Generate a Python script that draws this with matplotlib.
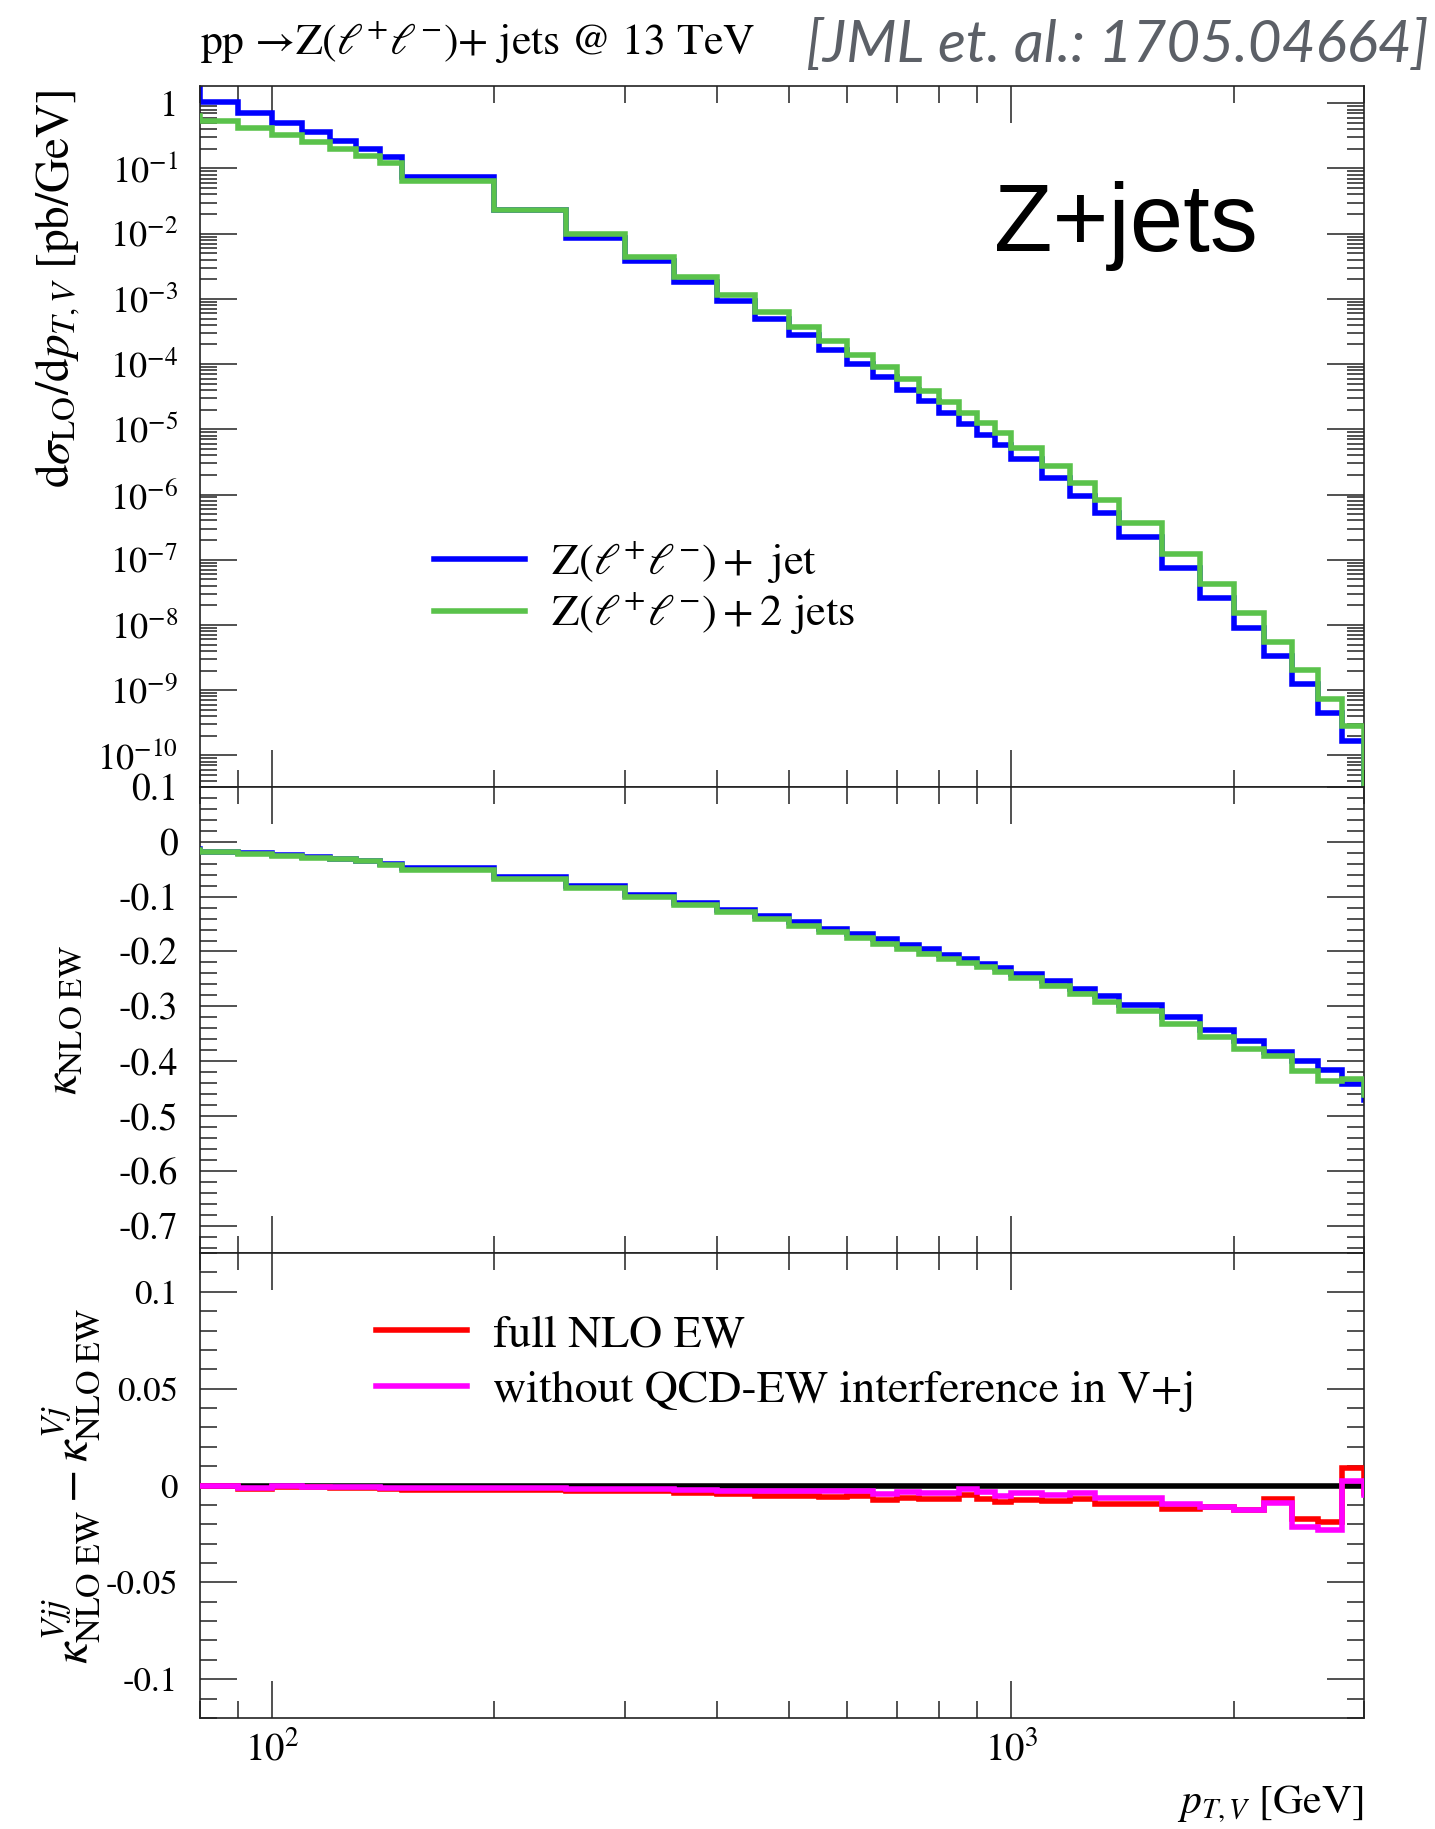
import numpy as np
import matplotlib
matplotlib.use("Agg")
import matplotlib.pyplot as plt
from matplotlib.ticker import LogLocator, MultipleLocator, FuncFormatter, NullFormatter
from matplotlib.lines import Line2D

# ---------------------------------------------------------------- data
# bin edges in p_T,V [GeV] (first and last bins lie just outside the shown range)
pt_edges = [70, 80, 90, 100, 110, 120, 130, 140, 150, 200, 250, 300, 350, 400,
            450, 500, 550, 600, 650, 700, 750, 800, 850, 900, 950, 1000, 1100,
            1200, 1300, 1400, 1600, 1800, 2000, 2200, 2400, 2600, 2800, 3000, 3200]

# LO differential cross sections [pb/GeV]
xs_vj = [2.1, 1.04, 0.70, 0.495, 0.36, 0.266, 0.197, 0.149, 0.0745, 0.0232,
         0.0086, 0.00381, 0.00179, 9.12e-4, 4.95e-4, 2.81e-4, 1.66e-4, 1.01e-4,
         6.38e-5, 4.07e-5, 2.67e-5, 1.77e-5, 1.21e-5, 8.3e-6, 5.78e-6, 3.48e-6,
         1.8e-6, 9.4e-7, 5.16e-7, 2.24e-7, 7.4e-8, 2.57e-8, 9.1e-9, 3.3e-9,
         1.23e-9, 4.43e-10, 1.67e-10, 1e-12]
xs_vjj = [0.64, 0.539, 0.415, 0.324, 0.25, 0.197, 0.153, 0.121, 0.0643, 0.0232,
          0.00972, 0.00442, 0.00218, 0.001156, 6.34e-4, 3.73e-4, 2.25e-4, 1.39e-4,
          8.87e-5, 5.81e-5, 3.89e-5, 2.61e-5, 1.77e-5, 1.23e-5, 8.7e-6, 5.25e-6,
          2.75e-6, 1.48e-6, 8.18e-7, 3.63e-7, 1.23e-7, 4.2e-8, 1.5e-8, 5.5e-9,
          2.02e-9, 7.43e-10, 2.83e-10, 1e-12]

# relative NLO EW corrections
kappa_vj = [-0.013, -0.018, -0.021, -0.0246, -0.0277, -0.031, -0.035, -0.0399,
            -0.0478, -0.0648, -0.0813, -0.0965, -0.111, -0.1239, -0.1354, -0.147,
            -0.1585, -0.1683, -0.178, -0.1878, -0.1963, -0.206, -0.2145, -0.2225,
            -0.2298, -0.2407, -0.2541, -0.2687, -0.2809, -0.2979, -0.3198, -0.3424,
            -0.3637, -0.3825, -0.4002, -0.4166, -0.441, -0.47]
kappa_vjj = [-0.014, -0.0186, -0.0228, -0.0262, -0.0289, -0.032, -0.0356, -0.0417,
             -0.0505, -0.0676, -0.0846, -0.0998, -0.115, -0.1284, -0.1409, -0.1534,
             -0.1643, -0.1753, -0.1856, -0.1954, -0.2045, -0.213, -0.2203, -0.2288,
             -0.2383, -0.2486, -0.2632, -0.2769, -0.2912, -0.3083, -0.3326, -0.3551,
             -0.3777, -0.391, -0.4178, -0.4361, -0.4318, -0.461]

# kappa(Vjj) - kappa(Vj)
dkappa_full = [0.0, -0.0003, -0.0017, -0.0008, -0.001, -0.0013, -0.0014, -0.0018,
               -0.0022, -0.0023, -0.0027, -0.0029, -0.0039, -0.0045, -0.0055, -0.0055,
               -0.0057, -0.0055, -0.0075, -0.0063, -0.007, -0.007, -0.005, -0.0068,
               -0.0084, -0.0075, -0.0082, -0.0071, -0.0093, -0.0095, -0.012, -0.0111,
               -0.0124, -0.0068, -0.0175, -0.0186, 0.0092, -0.004]
dkappa_noint = [0.0, -0.0003, -0.0014, -0.0005, -0.0007, -0.001, -0.0009, -0.0014,
                -0.0014, -0.0014, -0.0016, -0.0017, -0.0022, -0.0026, -0.003, -0.003,
                -0.0029, -0.0029, -0.0045, -0.0033, -0.0038, -0.0038, -0.0019, -0.0035,
                -0.0052, -0.004, -0.0048, -0.0041, -0.0065, -0.0065, -0.0094, -0.011,
                -0.0125, -0.009, -0.0215, -0.0229, 0.0022, -0.005]

# ---------------------------------------------------------------- style
plt.rcParams.update({
    "font.family": "STIXGeneral",
    "mathtext.fontset": "stix",
    "axes.unicode_minus": False,
})

BLUE, GREEN, RED, MAGENTA = "#0000ff", "#5ac24b", "#ff0000", "#ff00ff"
LW = 4.0

fig = plt.figure(figsize=(14.35, 18.29), dpi=100)
L, W = 0.1394, 0.8111
ax1 = fig.add_axes([L, 0.5697, W, 0.3833])
ax2 = fig.add_axes([L, 0.3149, W, 0.2548], sharex=ax1)
ax3 = fig.add_axes([L, 0.0607, W, 0.2542], sharex=ax1)

ax1.set_xscale("log")
ax1.set_xlim(80, 3000)

for ax in (ax1, ax2, ax3):
    for sp in ax.spines.values():
        sp.set_linewidth(1.2)
        sp.set_color("#222222")
    ax.tick_params(which="both", direction="in", top=True, right=True,
                   width=1.1, color="#222222", pad=16)
    ax.tick_params(which="major", length=26.5)
    ax.tick_params(which="minor", length=12)
    ax.xaxis.set_major_locator(LogLocator(base=10, numticks=20))
    ax.xaxis.set_minor_locator(LogLocator(base=10, subs=np.arange(2, 10), numticks=50))
    ax.xaxis.set_minor_formatter(NullFormatter())

for ax in (ax1, ax2):
    ax.tick_params(axis="x", which="both", labelbottom=False)
ax1.tick_params(axis="y", labelsize=26)
ax2.tick_params(axis="y", labelsize=27)
ax3.tick_params(axis="y", labelsize=25)
ax3.tick_params(axis="x", labelsize=28, pad=9)

# ---------------------------------------------------------------- top panel
ax1.stairs(xs_vj, pt_edges, color=BLUE, lw=LW, baseline=None, zorder=2)
ax1.stairs(xs_vjj, pt_edges, color=GREEN, lw=LW, baseline=None, zorder=3)
ax1.set_yscale("log")
ax1.set_ylim(3.27e-11, 1.84)
ax1.yaxis.set_major_locator(LogLocator(base=10, numticks=30))
ax1.yaxis.set_minor_locator(LogLocator(base=10, subs=np.arange(2, 10), numticks=100))
ax1.yaxis.set_minor_formatter(NullFormatter())


def log_label(v, _pos):
    e = int(round(np.log10(v)))
    return "1" if e == 0 else r"$10^{%d}$" % e


ax1.yaxis.set_major_formatter(FuncFormatter(log_label))
ax1.set_ylabel(r"d$\sigma_{\mathrm{LO}}$/d$p_{T,V}$ [pb/GeV]", fontsize=34, loc="top")
ax1.yaxis.set_label_coords(-0.101, 0.995)

ax1.text(0.682, 0.765, "Z+jets", transform=ax1.transAxes, fontsize=69,
         family="Liberation Sans", ha="left", va="baseline")

h1 = [Line2D([], [], color=BLUE, lw=LW), Line2D([], [], color=GREEN, lw=LW)]
ax1.legend(h1, [r"Z$(\ell^{+}\ell^{-})+$ jet", r"Z$(\ell^{+}\ell^{-})+2$ jets"],
           loc="upper left", bbox_to_anchor=(0.201, 0.353), frameon=False,
           fontsize=32, handlelength=2.05, handletextpad=0.58, labelspacing=0.12,
           borderpad=0, borderaxespad=0)


def lin_label(v, _pos):
    v = round(v, 3)
    if abs(v) < 1e-9:
        return "0"
    return f"{v:g}"


# ---------------------------------------------------------------- middle panel
ax2.stairs(kappa_vj, pt_edges, color=BLUE, lw=LW, baseline=None, zorder=2)
ax2.stairs(kappa_vjj, pt_edges, color=GREEN, lw=LW, baseline=None, zorder=3)
ax2.set_ylim(-0.75, 0.1)
ax2.yaxis.set_major_locator(MultipleLocator(0.1))
ax2.yaxis.set_minor_locator(MultipleLocator(0.02))
ax2.yaxis.set_major_formatter(FuncFormatter(lin_label))
ax2.set_ylabel(r"$\kappa_{\mathrm{NLO\ EW}}$", fontsize=34)
ax2.yaxis.set_label_coords(-0.098, 0.5)

# ---------------------------------------------------------------- bottom panel
dkappa_ref = np.asarray(kappa_vj) - np.asarray(kappa_vj)
ax3.stairs(dkappa_ref, pt_edges, color="black", lw=LW, baseline=None, zorder=2)
ax3.stairs(dkappa_full, pt_edges, color=RED, lw=LW, baseline=None, zorder=3)
ax3.stairs(dkappa_noint, pt_edges, color=MAGENTA, lw=LW, baseline=None, zorder=4)
ax3.set_ylim(-0.12, 0.12)
ax3.yaxis.set_major_locator(MultipleLocator(0.05))
ax3.yaxis.set_minor_locator(MultipleLocator(0.01))
ax3.yaxis.set_major_formatter(FuncFormatter(lin_label))
ax3.set_ylabel(r"$\kappa^{Vjj}_{\mathrm{NLO\ EW}} - \kappa^{Vj}_{\mathrm{NLO\ EW}}$",
               fontsize=35)
ax3.yaxis.set_label_coords(-0.083, 0.5)
ax3.set_xlabel(r"$p_{T,V}$ [GeV]", fontsize=30, loc="right")
ax3.xaxis.set_label_coords(1.0, -0.142)

h3 = [Line2D([], [], color=RED, lw=LW), Line2D([], [], color=MAGENTA, lw=LW)]
ax3.legend(h3, ["full NLO EW", "without QCD-EW interference in V+j"],
           loc="upper left", bbox_to_anchor=(0.151, 0.868), frameon=False,
           fontsize=33, handlelength=2.0, handletextpad=0.56, labelspacing=0.3,
           borderpad=0, borderaxespad=0)

# ---------------------------------------------------------------- header
fig.text(200 / 1435, 1 - 55 / 1829,
         r"pp →Z$(\ell^{+}\ell^{-})$+ jets @ 13 TeV",
         fontsize=31.5, ha="left", va="baseline")
fig.text(1429 / 1435, 1 - 62 / 1829, "[JML et. al.: 1705.04664]",
         family="Lato", style="italic", weight="normal", fontsize=42,
         color="#5c6067", ha="right", va="baseline")

fig.savefig("out.png", dpi=100)
